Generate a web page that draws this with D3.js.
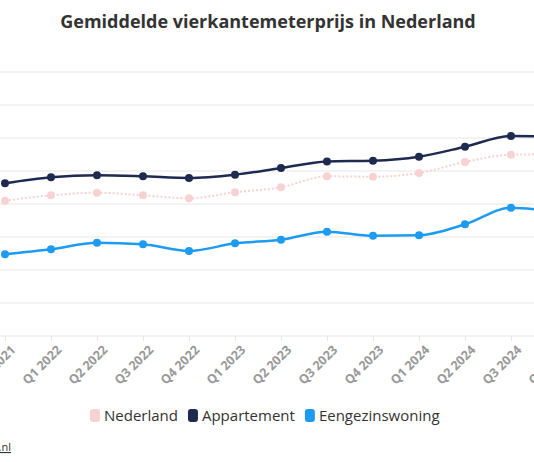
<!DOCTYPE html>
<html><head><meta charset="utf-8">
<script src="https://cdn.jsdelivr.net/npm/d3@7"></script>
<style>body{margin:0;background:#fff;overflow:hidden}svg{display:block;font-family:"Open Sans",Lato,sans-serif}</style>
</head><body><svg id="c" width="534" height="462"></svg>
<script>
const categories=["Q4 2021","Q1 2022","Q2 2022","Q3 2022","Q4 2022","Q1 2023","Q2 2023","Q3 2023","Q4 2023","Q1 2024","Q2 2024","Q3 2024","Q4 2024"];
const nederland=[4100,4264,4342,4264,4173,4355,4506,4839,4827,4939,5273,5494,5510];
const appartement=[4627,4809,4870,4839,4788,4888,5091,5291,5313,5433,5736,6060,6050];
const eengezinswoning=[2476,2627,2827,2779,2576,2809,2918,3161,3039,3052,3385,3888,3750];
const yTicks=[0,1000,2000,3000,4000,5000,6000,7000,8000];
const series=[
 {name:"Nederland",values:nederland,color:"#f8d2d2",dash:"2,2"},
 {name:"Appartement",values:appartement,color:"#1e2a50",dash:null},
 {name:"Eengezinswoning",values:eengezinswoning,color:"#1d9bf0",dash:null}];
const svg=d3.select("#c");
const x=d3.scalePoint().domain(categories).range([5,557]);
const y=d3.scaleLinear().domain([0,8000]).range([336,72]);
svg.append("text").attr("x",268).attr("y",28).attr("text-anchor","middle")
 .attr("font-size",18).attr("font-weight",700).attr("fill","#333").text("Gemiddelde vierkantemeterprijs in Nederland");
const g=svg.append("g");
g.selectAll("line.grid").data(yTicks).join("line").attr("x1",-60).attr("x2",600)
 .attr("y1",d=>y(d)).attr("y2",d=>y(d)).attr("stroke","#e6e6e6").attr("stroke-width",1);
g.selectAll("text.yl").data(yTicks).join("text").attr("x",-60).attr("y",d=>y(d)+4)
 .attr("text-anchor","end").attr("font-size",11).attr("fill","#999").text(d=>d);
const xa=g.append("g").attr("transform","translate(0,336)").call(d3.axisBottom(x).tickSize(5));
xa.select(".domain").remove();
xa.selectAll("line").attr("stroke","#e6e6e6");
xa.selectAll("text").attr("font-size",12.5).attr("font-weight",700).attr("fill","#999")
 .attr("font-family","Open Sans").attr("text-anchor","end")
 .attr("transform","translate(2,6) rotate(-45)").attr("dy","0.35em");
const line=d3.line().x((d,i)=>x(categories[i])).y(d=>y(d)).curve(d3.curveMonotoneX);
series.forEach(s=>{
 g.append("path").attr("d",line(s.values)).attr("fill","none").attr("stroke",s.color)
  .attr("stroke-width",s.dash?2:2.5).attr("stroke-dasharray",s.dash);
 g.selectAll(null).data(s.values).join("circle").attr("cx",(d,i)=>x(categories[i])).attr("cy",d=>y(d))
  .attr("r",4).attr("fill",s.color);
});
const lg=svg.append("g").attr("transform","translate(0,416)");
let lx=90;
series.forEach(s=>{
 lg.append("rect").attr("x",lx).attr("y",-7).attr("width",10).attr("height",13).attr("rx",3).attr("fill",s.color);
 const t=lg.append("text").attr("x",lx+14).attr("y",5).attr("font-size",15).attr("fill","#333").text(s.name);
 lx+=14+t.node().getComputedTextLength()+10;
});
svg.append("text").attr("x",11).attr("y",451).attr("text-anchor","end").attr("font-size",11)
 .attr("fill","#333").attr("text-decoration","underline").text("Bron: funda.nl");
</script></body></html>
